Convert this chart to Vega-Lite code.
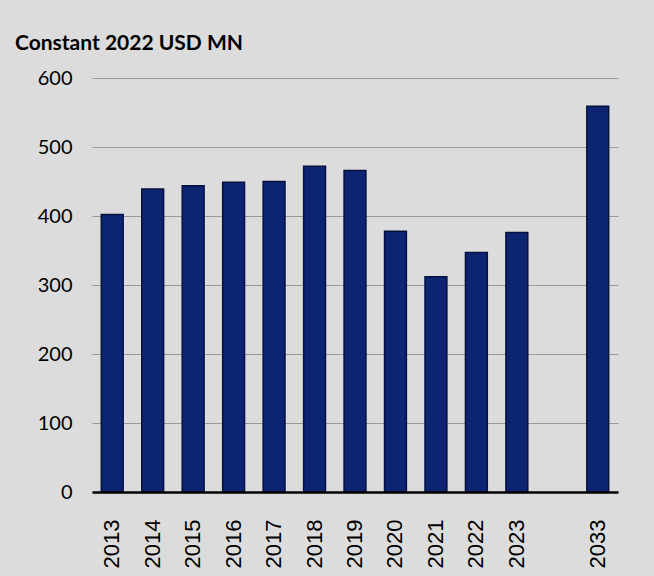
{
  "$schema": "https://vega.github.io/schema/vega-lite/v6.json",
  "autosize": {"type": "none"},
  "padding": {"left": 92, "top": 78, "right": 36, "bottom": 84},
  "width": 526,
  "height": 414,
  "background": "#dcdcdc",
  "title": {
    "text": "Constant 2022 USD MN",
    "anchor": "start",
    "frame": "group",
    "font": "Lato",
    "fontSize": 21,
    "fontWeight": "bold",
    "color": "#000000",
    "dx": -77,
    "offset": 14
  },
  "data": {
    "values": [
      {"year": "2013", "value": 402},
      {"year": "2014", "value": 439},
      {"year": "2015", "value": 444},
      {"year": "2016", "value": 449},
      {"year": "2017", "value": 450},
      {"year": "2018", "value": 472},
      {"year": "2019", "value": 466},
      {"year": "2020", "value": 378},
      {"year": "2021", "value": 312},
      {"year": "2022", "value": 347},
      {"year": "2023", "value": 376},
      {"year": "2033", "value": 559}
    ]
  },
  "mark": {"type": "bar", "color": "#0d2473", "stroke": "#06103f", "strokeWidth": 1.5},
  "encoding": {
    "x": {
      "field": "year",
      "type": "nominal",
      "scale": {
        "domain": ["2013", "2014", "2015", "2016", "2017", "2018", "2019", "2020", "2021", "2022", "2023", " ", "2033"],
        "paddingInner": 0.46,
        "paddingOuter": 0.23
      },
      "axis": {
        "title": null,
        "labelAngle": -90,
        "labelAlign": "right",
        "labelBaseline": "middle",
        "labelFont": "Liberation Sans",
        "labelFontSize": 22,
        "labelColor": "#000000",
        "labelPadding": 27,
        "ticks": false,
        "domainColor": "#000000",
        "domainWidth": 2.5,
        "grid": false,
        "zindex": 1
      }
    },
    "y": {
      "field": "value",
      "type": "quantitative",
      "scale": {"domain": [0, 600], "nice": false},
      "axis": {
        "title": null,
        "values": [0, 100, 200, 300, 400, 500, 600],
        "labelFont": "Lato",
        "labelFontSize": 20,
        "labelColor": "#000000",
        "labelPadding": 20,
        "ticks": false,
        "domain": false,
        "grid": true,
        "gridColor": "#9a9a9a",
        "gridWidth": 1.2
      }
    }
  },
  "config": {"view": {"stroke": null}}
}
